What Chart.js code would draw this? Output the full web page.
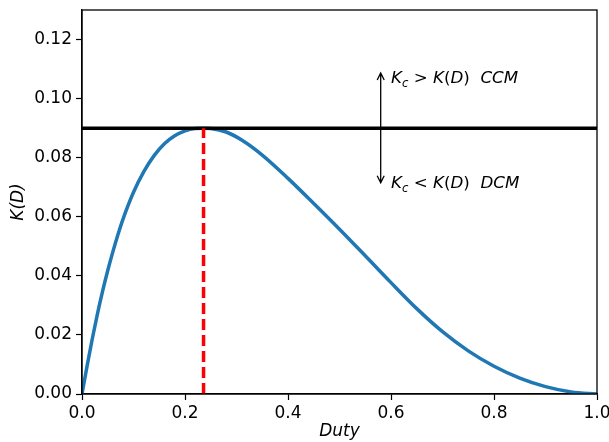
<!DOCTYPE html>
<html>
<head>
<meta charset="utf-8">
<script src="https://cdn.jsdelivr.net/npm/chart.js@4.4.0/dist/chart.umd.min.js"></script>
<style>
  html, body { margin: 0; padding: 0; background: #fff; }
  #wrap { width: 609px; height: 442px; }
</style>
</head>
<body>
<div id="wrap"><canvas id="grafico"></canvas></div>
<script>
// valores
const duty = [0, 0.01, 0.02, 0.03, 0.04, 0.05, 0.06, 0.07, 0.08, 0.10, 0.12, 0.14, 0.16, 0.18, 0.20, 0.22, 0.236, 0.25, 0.28, 0.31, 0.35, 0.40, 0.45, 0.50, 0.55, 0.60, 0.65, 0.70, 0.75, 0.80, 0.85, 0.90, 0.95, 1.00];
const kD = [0, 0.0096, 0.0187, 0.0271, 0.0348, 0.0418, 0.0482, 0.0541, 0.0594, 0.0683, 0.0753, 0.0807, 0.0847, 0.0874, 0.0891, 0.0899, 0.0900, 0.0899, 0.0887, 0.0860, 0.0809, 0.0730, 0.0645, 0.0558, 0.0468, 0.0377, 0.0289, 0.0211, 0.0146, 0.0094, 0.0054, 0.0025, 0.0007, 0];

const kCrit = 0.09;      // linha horizontal
const dPico = 0.236;     // linha vertical tracejada
const xTicks = [0, 0.2, 0.4, 0.6, 0.8, 1.0];
const yTicks = [0, 0.02, 0.04, 0.06, 0.08, 0.10, 0.12];

// anotações
const setaX = 0.58;
const setaCima = 0.1087;
const setaBaixo = 0.0715;
const textoX = 0.60;
const textoCCM = 0.1053;
const textoDCM = 0.0697;

const fonte = 'DejaVu Sans';

function desenharMath(ctx, x, y, partes, tam) {
    let cx = x;
    partes.forEach(p => {
        const t = p.sub ? tam * 0.7 : tam;
        ctx.font = (p.it ? 'italic ' : '') + t + 'px "' + fonte + '"';
        ctx.fillText(p.t, cx, p.sub ? y + tam * 0.25 : y);
        cx += ctx.measureText(p.t).width;
    });
}

function seta(ctx, x, y0, y1) {
    const dir = y1 < y0 ? 1 : -1;
    ctx.beginPath();
    ctx.moveTo(x, y0);
    ctx.lineTo(x, y1);
    ctx.moveTo(x - 3.5, y1 + dir * 7);
    ctx.lineTo(x, y1);
    ctx.lineTo(x + 3.5, y1 + dir * 7);
    ctx.stroke();
}

const pluginAnotacoes = {
    id: 'anotacoes',
    afterDatasetsDraw(chart) {
        const ctx = chart.ctx;
        const a = chart.chartArea;
        const sx = chart.scales.x, sy = chart.scales.y;
        ctx.save();
        ctx.strokeStyle = '#000';
        ctx.lineWidth = 1.3;
        ctx.strokeRect(a.left, a.top, a.right - a.left, a.bottom - a.top);

        const px = sx.getPixelForValue(setaX);
        seta(ctx, px, sy.getPixelForValue(kCrit), sy.getPixelForValue(setaCima));
        seta(ctx, px, sy.getPixelForValue(kCrit), sy.getPixelForValue(setaBaixo));

        ctx.fillStyle = '#000';
        ctx.textBaseline = 'alphabetic';
        ctx.textAlign = 'left';
        const tx = sx.getPixelForValue(textoX);
        desenharMath(ctx, tx, sy.getPixelForValue(textoCCM), [
            { t: 'K', it: true }, { t: 'c', it: true, sub: true }, { t: ' > ' },
            { t: 'K', it: true }, { t: '(' }, { t: 'D', it: true }, { t: ')' },
            { t: '  CCM', it: true }
        ], 16.7);
        desenharMath(ctx, tx, sy.getPixelForValue(textoDCM), [
            { t: 'K', it: true }, { t: 'c', it: true, sub: true }, { t: ' < ' },
            { t: 'K', it: true }, { t: '(' }, { t: 'D', it: true }, { t: ')' },
            { t: '  DCM', it: true }
        ], 16.7);
        ctx.restore();
    }
};

const ctx = document.getElementById('grafico').getContext('2d');
new Chart(ctx, {
    type: 'line',
    data: {
        datasets: [
            {
                data: duty.map((d, i) => ({ x: d, y: kD[i] })),
                borderColor: '#1f77b4',
                borderWidth: 3.5,
                pointRadius: 0,
                cubicInterpolationMode: 'monotone',
                order: 3
            },
            {
                data: [{ x: 0, y: kCrit }, { x: 1, y: kCrit }],
                borderColor: '#000',
                borderWidth: 3.5,
                pointRadius: 0,
                order: 2
            },
            {
                data: [{ x: dPico, y: 0 }, { x: dPico, y: kCrit }],
                borderColor: '#ff0000',
                borderWidth: 3.5,
                borderDash: [11, 5],
                pointRadius: 0,
                order: 1
            }
        ]
    },
    options: {
        responsive: true,
        maintainAspectRatio: false,
        animation: false,
        layout: { padding: { top: 10, right: 12, left: 0, bottom: 0 } },
        plugins: { legend: { display: false }, tooltip: { enabled: false } },
        scales: {
            x: {
                type: 'linear',
                min: 0,
                max: 1,
                afterBuildTicks: s => { s.ticks = xTicks.map(v => ({ value: v })); },
                afterFit: s => { s.height = 48; s.paddingLeft = 0; s.paddingRight = 0; },
                grid: { drawOnChartArea: false, tickLength: 6, color: '#000', tickWidth: 1.2 },
                border: { color: '#000', width: 1.3 },
                ticks: {
                    color: '#000',
                    padding: 3,
                    maxRotation: 0,
                    font: { family: fonte, size: 17 },
                    callback: v => v.toFixed(1)
                },
                title: {
                    display: true,
                    text: 'Duty',
                    color: '#000',
                    padding: { top: 0, bottom: 0 },
                    font: { family: fonte, size: 17, style: 'italic' }
                }
            },
            y: {
                min: 0,
                max: 0.13,
                afterBuildTicks: s => { s.ticks = yTicks.map(v => ({ value: v })); },
                afterFit: s => { s.width = 82; s.paddingTop = 0; s.paddingBottom = 0; },
                grid: { drawOnChartArea: false, tickLength: 6, color: '#000', tickWidth: 1.2 },
                border: { color: '#000', width: 1.3 },
                ticks: {
                    color: '#000',
                    padding: 4,
                    font: { family: fonte, size: 17 },
                    callback: v => v.toFixed(2)
                },
                title: {
                    display: true,
                    text: 'K(D)',
                    color: '#000',
                    padding: { top: 8, bottom: 0 },
                    font: { family: fonte, size: 17, style: 'italic' }
                }
            }
        }
    },
    plugins: [pluginAnotacoes]
});
</script>
</body>
</html>
